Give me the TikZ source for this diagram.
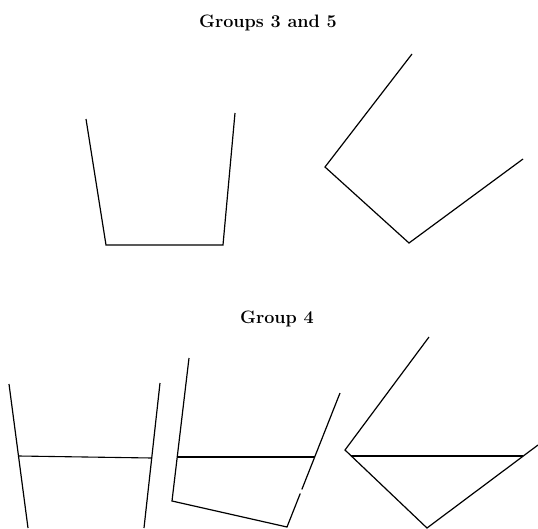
\documentclass[tikz,border=0pt]{standalone}
\usetikzlibrary{calc}

\begin{document}
\begin{tikzpicture}[x=1pt, y=-1pt,
    every node/.style={font=\fontsize{18}{21}\selectfont\bfseries},
    title/.style={anchor=base, inner sep=0pt},
    wall/.style={line width=1.2pt, line join=miter},
    water/.style={line width=1.1pt}]

  \useasboundingbox (0,0) rectangle (538,528);

  \node[title] (top)    at (268,27)  {Groups 3 and 5};
  \node[title] (bottom) at (277,323) {Group 4};

  % Groups 3 and 5
  \draw[wall] (86,119) -- (106,245) -- (223,245) -- (235,113);
  \draw[wall] (412,54) -- (325,167) -- (409,243) -- (523,159);

  % Group 4, upright
  \draw[wall] (9,384) -- (28,528);
  \draw[wall] (160,383) -- (144,528);
  \draw[water] (19,456) -- (152,458);

  % Group 4, tilted
  \coordinate (bl) at (172,501);
  \coordinate (br) at (287,527);
  \coordinate (rt) at (340,393);
  \draw[wall] (189,358) -- (bl) -- (br) -- ($(br)!0.25!(rt)$);
  \draw[wall] ($(br)!0.28!(rt)$) -- (rt);
  \draw[water] (177,457) -- (315,457);

  % Group 4, on its corner
  \draw[wall] (429,337) -- (345,450) -- (427,528) -- (538,445);
  \draw[water] (351,456) -- (523,456);
\end{tikzpicture}
\end{document}
